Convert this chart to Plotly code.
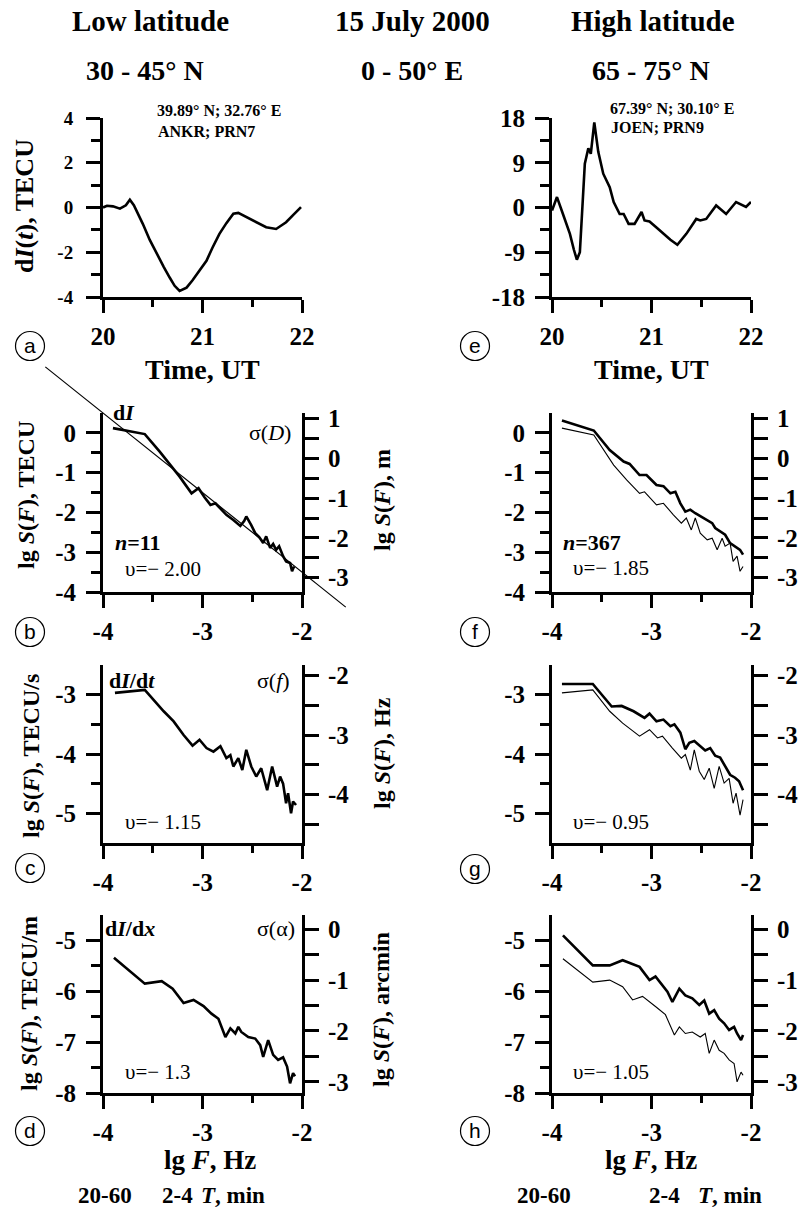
import numpy as np
import plotly.graph_objects as go

W, H = 801, 1218

# (a) dI(t), TECU - ANKR, PRN7
time_a = [20.00, 20.04, 20.10, 20.17, 20.23, 20.27, 20.31, 20.36, 20.40, 20.47,
          20.54, 20.61, 20.67, 20.72, 20.77, 20.84, 20.90, 20.97, 21.04, 21.10,
          21.17, 21.24, 21.31, 21.36, 21.44, 21.54, 21.64, 21.74, 21.84, 21.92, 21.99]
dI_a = [0.00, 0.08, 0.05, -0.05, 0.10, 0.35, 0.10, -0.35, -0.73, -1.45,
        -2.08, -2.65, -3.13, -3.50, -3.73, -3.58, -3.25, -2.83, -2.38, -1.80,
        -1.18, -0.70, -0.28, -0.24, -0.43, -0.66, -0.88, -0.96, -0.66, -0.30, 0.02]

# (e) dI(t), TECU - JOEN, PRN9
time_e = [20.00, 20.05, 20.11, 20.18, 20.22, 20.25, 20.28, 20.30, 20.31, 20.33,
          20.365, 20.39, 20.425, 20.465, 20.515, 20.58, 20.62, 20.68, 20.72, 20.77,
          20.83, 20.90, 20.93, 20.98, 21.05, 21.12, 21.19, 21.26, 21.35, 21.45,
          21.49, 21.55, 21.65, 21.75, 21.85, 21.95, 22.00]
dI_e = [-0.6, 2.1, -1.3, -5.3, -8.5, -10.5, -9.0, -1.3, 1.4, 8.8,
        11.9, 10.8, 17.1, 11.2, 6.8, 4.1, 1.1, -1.3, -1.3, -3.3,
        -3.3, -0.9, -2.6, -2.8, -4.0, -5.3, -6.5, -7.5, -5.3, -2.3,
        -2.6, -2.3, 0.4, -1.3, 1.1, 0.1, 1.1]

# (b) spectrum of dI, low latitude
lgF_b = [-3.90, -3.58, -3.43, -3.23, -3.11, -3.04, -2.98, -2.92, -2.87, -2.80,
         -2.76, -2.69, -2.65, -2.62, -2.58, -2.56, -2.51, -2.47, -2.43, -2.39,
         -2.36, -2.32, -2.29, -2.26, -2.23, -2.19, -2.16, -2.12, -2.10, -2.08]
lgS_b = [0.12, -0.03, -0.47, -1.10, -1.52, -1.39, -1.62, -1.81, -1.77, -1.95,
         -2.06, -2.19, -2.29, -2.34, -2.21, -2.10, -2.32, -2.52, -2.62, -2.77,
         -2.60, -2.89, -2.79, -2.94, -2.85, -3.10, -3.23, -3.27, -3.48, -3.36]
fit_b_slope = -2.00
fit_b_x = [-4.58, -1.56]
fit_b_anchor = (-4.0, 0.5)

# (f) spectrum of dI, high latitude (thick and thin curves)
lgF_f = [-3.90, -3.58, -3.42, -3.28, -3.22, -3.12, -3.05, -2.95, -2.88, -2.81,
         -2.76, -2.71, -2.66, -2.61, -2.56, -2.51, -2.44, -2.39, -2.36, -2.31,
         -2.26, -2.21, -2.16, -2.11, -2.08]
lgS_f = [0.31, 0.06, -0.43, -0.72, -0.78, -1.06, -1.06, -1.31, -1.34, -1.52,
         -1.48, -1.77, -1.98, -1.93, -2.02, -2.10, -2.19, -2.27, -2.39, -2.48,
         -2.56, -2.77, -2.85, -2.94, -3.06]
lgF_f2 = [-3.90, -3.58, -3.38, -3.25, -3.12, -3.07, -2.95, -2.88, -2.78, -2.70,
          -2.65, -2.60, -2.56, -2.51, -2.44, -2.39, -2.34, -2.29, -2.26, -2.21,
          -2.18, -2.14, -2.11, -2.08]
lgS_f2 = [0.12, -0.05, -0.81, -1.18, -1.52, -1.48, -1.81, -1.77, -2.06, -2.27,
          -2.14, -2.44, -2.14, -2.52, -2.69, -2.65, -2.94, -2.65, -2.85, -2.77,
          -3.23, -3.10, -3.48, -3.36]

# (c) spectrum of dI/dt, low latitude
lgF_c = [-3.88, -3.58, -3.39, -3.29, -3.19, -3.10, -3.03, -2.96, -2.89, -2.82,
         -2.76, -2.72, -2.69, -2.64, -2.60, -2.56, -2.51, -2.46, -2.41, -2.35,
         -2.30, -2.25, -2.22, -2.19, -2.16, -2.14, -2.11, -2.09, -2.06]
lgS_c = [-2.97, -2.92, -3.28, -3.45, -3.68, -3.86, -3.76, -3.90, -3.96, -3.87,
         -4.07, -4.02, -4.21, -4.07, -4.27, -3.93, -4.21, -4.38, -4.24, -4.61,
         -4.21, -4.55, -4.38, -4.50, -4.83, -4.66, -5.00, -4.80, -4.86]

# (g) spectrum of dI/dt, high latitude
lgF_g = [-3.90, -3.59, -3.40, -3.30, -3.18, -3.07, -3.02, -2.95, -2.88, -2.81,
         -2.77, -2.71, -2.66, -2.62, -2.57, -2.51, -2.46, -2.41, -2.36, -2.31,
         -2.26, -2.21, -2.16, -2.12, -2.08]
lgS_g = [-2.82, -2.82, -3.20, -3.19, -3.28, -3.39, -3.32, -3.45, -3.42, -3.53,
         -3.50, -3.64, -3.92, -3.81, -3.78, -3.86, -3.94, -3.90, -4.03, -4.06,
         -4.20, -4.35, -4.40, -4.46, -4.61]
lgF_g2 = [-3.90, -3.59, -3.42, -3.29, -3.12, -3.02, -2.94, -2.89, -2.79, -2.70,
          -2.66, -2.61, -2.57, -2.52, -2.47, -2.42, -2.37, -2.32, -2.27, -2.22,
          -2.18, -2.15, -2.11, -2.08]
lgS_g2 = [-2.97, -2.92, -3.28, -3.48, -3.70, -3.59, -3.73, -3.70, -3.90, -4.07,
          -4.01, -4.27, -3.93, -4.29, -4.43, -4.24, -4.58, -4.21, -4.49, -4.41,
          -4.83, -4.66, -5.03, -4.77]

# (d) spectrum of dI/dx, low latitude
lgF_d = [-3.89, -3.58, -3.41, -3.30, -3.19, -3.09, -2.99, -2.91, -2.84, -2.77,
         -2.72, -2.67, -2.64, -2.61, -2.54, -2.47, -2.42, -2.39, -2.34, -2.29,
         -2.24, -2.19, -2.15, -2.12, -2.09, -2.07]
lgS_d = [-5.34, -5.85, -5.80, -5.95, -6.23, -6.17, -6.29, -6.44, -6.54, -6.90,
         -6.73, -6.83, -6.70, -6.80, -6.90, -6.93, -7.06, -7.29, -6.96, -7.25,
         -7.35, -7.30, -7.48, -7.81, -7.61, -7.67]

# (h) spectrum of dI/dx, high latitude
lgF_h = [-3.89, -3.59, -3.42, -3.29, -3.12, -3.02, -2.96, -2.89, -2.84, -2.79,
         -2.72, -2.66, -2.59, -2.52, -2.47, -2.42, -2.37, -2.32, -2.27, -2.22,
         -2.17, -2.14, -2.10, -2.08]
lgS_h = [-4.90, -5.49, -5.49, -5.39, -5.52, -5.78, -5.71, -5.88, -6.01, -6.21,
         -5.95, -6.08, -6.14, -6.27, -6.18, -6.44, -6.37, -6.54, -6.63, -6.76,
         -6.70, -6.83, -6.96, -6.86]
lgF_h2 = [-3.89, -3.59, -3.42, -3.29, -3.19, -3.09, -2.96, -2.86, -2.77, -2.72,
          -2.66, -2.59, -2.51, -2.46, -2.42, -2.37, -2.32, -2.27, -2.22, -2.17,
          -2.14, -2.10, -2.08]
lgS_h2 = [-5.36, -5.82, -5.78, -5.91, -6.17, -6.10, -6.30, -6.46, -6.86, -6.70,
          -6.83, -6.80, -6.90, -6.83, -7.22, -6.96, -7.16, -7.22, -7.35, -7.42,
          -7.78, -7.59, -7.65]

# axis scales and tick labels
time_range = [20, 22]
time_ticks = [20, 21, 22]
time_minor = [20.5, 21.5]
a_range = [-4, 4]
a_ticks = [-4, -2, 0, 2, 4]
a_minor = [-3, -1, 1, 3]
e_range = [-18, 18]
e_ticks = [-18, -9, 0, 9, 18]
e_minor = [-13.5, -4.5, 4.5, 13.5]
lgF_range = [-4, -2]
lgF_ticks = [-4, -3, -2]
lgF_minor = [-3.5, -2.5]
dI_range = [-4, 0.5]
dI_ticks = [-4, -3, -2, -1, 0]
dI_minor = [-3.5, -2.5, -1.5, -0.5]
dIdt_range = [-5.5, -2.5]
dIdt_ticks = [-5, -4, -3]
dIdt_minor = [-4.5, -3.5]
dIdx_range = [-8, -4.5]
dIdx_ticks = [-8, -7, -6, -5]
dIdx_minor = [-7.5, -6.5, -5.5]
# right-hand scales: offset from the left scale, and ticks
sigD_offset, sigD_ticks = 0.64, [-3, -2.5, -2, -1.5, -1, -0.5, 0, 0.5, 1]
sigf_offset, sigf_ticks = 0.68, [-4.5, -4, -3.5, -3, -2.5, -2]
siga_offset, siga_ticks = 4.78, [-3, -2.5, -2, -1.5, -1, -0.5, 0]


def px(x):
    return x / W


def py(y):
    return 1 - y / H


def lbl(vals):
    return [("<b>%g</b>" % v) if float(v).is_integer() else "" for v in vals]


def aname(k, n):
    return k + "axis" + ("" if n == 1 else str(n))


def ref(k, n):
    return k + ("" if n == 1 else str(n))


def tfont(size):
    return dict(family="Liberation Serif", size=size, color="black")


col_px = {"L": (103, 302), "R": (552, 751)}
row_px = {1: (118, 297), 2: (413, 592), 3: (665, 843), 4: (915, 1093)}

base = dict(showline=True, linecolor="black", linewidth=3, ticks="outside",
            tickcolor="black", tickwidth=2.5, ticklen=14, showgrid=False,
            zeroline=False, fixedrange=True, tickmode="array", automargin=False)

fig = go.Figure()
lay = {}

# panel n: column, row, x scale, y scale, right scale, y label size
panels = [
    (1, "L", 1, (time_range, time_ticks, time_minor), (a_range, a_ticks, a_minor), None, 19),
    (2, "R", 1, (time_range, time_ticks, time_minor), (e_range, e_ticks, e_minor), None, 25),
    (3, "L", 2, (lgF_range, lgF_ticks, lgF_minor), (dI_range, dI_ticks, dI_minor), (sigD_offset, sigD_ticks), 25),
    (4, "R", 2, (lgF_range, lgF_ticks, lgF_minor), (dI_range, dI_ticks, dI_minor), (sigD_offset, sigD_ticks), 25),
    (5, "L", 3, (lgF_range, lgF_ticks, lgF_minor), (dIdt_range, dIdt_ticks, dIdt_minor), (sigf_offset, sigf_ticks), 25),
    (6, "R", 3, (lgF_range, lgF_ticks, lgF_minor), (dIdt_range, dIdt_ticks, dIdt_minor), (sigf_offset, sigf_ticks), 25),
    (7, "L", 4, (lgF_range, lgF_ticks, lgF_minor), (dIdx_range, dIdx_ticks, dIdx_minor), (siga_offset, siga_ticks), 25),
    (8, "R", 4, (lgF_range, lgF_ticks, lgF_minor), (dIdx_range, dIdx_ticks, dIdx_minor), (siga_offset, siga_ticks), 25),
]

for n, col, row, xs, ys, rs, ysize in panels:
    x0, x1 = col_px[col]
    y0, y1 = row_px[row]
    lay[aname("x", n)] = dict(base, domain=[px(x0), px(x1)], anchor=ref("y", n),
                              range=xs[0], tickvals=xs[1], ticktext=lbl(xs[1]),
                              tickfont=tfont(25), ticklen=13, ticklabelstandoff=2,
                              minor=dict(tickmode="array", tickvals=xs[2], ticks="outside",
                                         ticklen=7, tickwidth=2.5, tickcolor="black"))
    lay[aname("y", n)] = dict(base, domain=[py(y1), py(y0)], anchor=ref("x", n),
                              range=ys[0], tickvals=ys[1], ticktext=lbl(ys[1]),
                              tickfont=tfont(ysize), ticklabelstandoff=9 if n == 1 else 5,
                              minor=dict(tickmode="array", tickvals=ys[2], ticks="outside",
                                         ticklen=9, tickwidth=2.5, tickcolor="black"))
    if rs is not None:
        m = n + 6
        off, rt = rs
        lay[aname("y", m)] = dict(base, overlaying=ref("y", n), side="right", anchor=ref("x", n),
                                  range=[ys[0][0] + off, ys[0][1] + off],
                                  tickvals=rt, ticktext=lbl(rt), tickfont=tfont(25),
                                  ticklabelstandoff=4)
        fig.add_trace(go.Scatter(x=[], y=[], xaxis=ref("x", n), yaxis=ref("y", m),
                                 showlegend=False, hoverinfo="skip"))

thick = dict(color="black", width=2.6)
thin = dict(color="black", width=1.1)
curves = [
    (1, time_a, dI_a, thick), (2, time_e, dI_e, thick),
    (3, lgF_b, lgS_b, thick),
    (4, lgF_f2, lgS_f2, thin), (4, lgF_f, lgS_f, thick),
    (5, lgF_c, lgS_c, thick),
    (6, lgF_g2, lgS_g2, thin), (6, lgF_g, lgS_g, thick),
    (7, lgF_d, lgS_d, thick),
    (8, lgF_h2, lgS_h2, thin), (8, lgF_h, lgS_h, thick),
]
for n, xv, yv, ln in curves:
    fig.add_trace(go.Scatter(x=xv, y=yv, mode="lines", line=ln, xaxis=ref("x", n),
                             yaxis=ref("y", n), showlegend=False, hoverinfo="skip"))

# power-law fit in (b): drawn on a hidden, wider axis pair with the same scale
bx0, bx1 = col_px["L"]
by0, by1 = row_px[2]
sx = (lgF_range[1] - lgF_range[0]) / (bx1 - bx0)
sy = (dI_range[1] - dI_range[0]) / (by1 - by0)
ex0, ex1, ey0, ey1 = 40, 352, 355, 620
lay[aname("x", 15)] = dict(visible=False, fixedrange=True, anchor="y15", automargin=False,
                           domain=[px(ex0), px(ex1)],
                           range=[lgF_range[0] - (bx0 - ex0) * sx, lgF_range[1] + (ex1 - bx1) * sx])
lay[aname("y", 15)] = dict(visible=False, fixedrange=True, anchor="x15", automargin=False,
                           domain=[py(ey1), py(ey0)],
                           range=[dI_range[0] - (ey1 - by1) * sy, dI_range[1] + (by0 - ey0) * sy])
fit_y = [fit_b_anchor[1] + fit_b_slope * (v - fit_b_anchor[0]) for v in fit_b_x]
fig.add_trace(go.Scatter(x=fit_b_x, y=fit_y, mode="lines", line=dict(color="black", width=1.2),
                         xaxis="x15", yaxis="y15", showlegend=False, hoverinfo="skip"))

ann = []


def txt(s, x, y, size=20, bold=True, xanchor="center", angle=0, family="Liberation Serif"):
    ann.append(dict(text=s, x=px(x), y=py(y), xref="paper", yref="paper", showarrow=False,
                    xanchor=xanchor, yanchor="middle", textangle=angle,
                    font=dict(family=family, size=size, color="black",
                              weight="bold" if bold else "normal")))


# headers
txt("Low latitude", 150, 21, 29)
txt("15 July 2000", 412, 21, 29)
txt("High latitude", 653, 21, 29)
txt("30 - 45° N", 145, 71, 28)
txt("0 - 50° E", 412, 71, 28)
txt("65 - 75° N", 651, 71, 28)
txt("39.89° N; 32.76° E", 219, 110, 16)
txt("ANKR; PRN7", 206, 131, 16)
txt("67.39° N; 30.10° E", 672, 108, 16)
txt("JOEN; PRN9", 657, 128, 16)

# axis titles
txt("Time, UT", 202, 370, 28)
txt("Time, UT", 651, 370, 28)
txt("lg <i>F</i>, Hz", 210, 1160, 27)
txt("lg <i>F</i>, Hz", 651, 1160, 27)
for cx, pos in ((105, "20-60"), (177, "2-4"), (233, "<i>T</i>, min"),
                (544, "20-60"), (664, "2-4"), (730, "<i>T</i>, min")):
    txt(pos, cx, 1195, 23)
txt("d<i>I</i>(<i>t</i>), TECU", 24, 206, 26, angle=-90)
txt("lg <i>S</i>(<i>F</i>), TECU", 26, 495, 24, angle=-90)
txt("lg <i>S</i>(<i>F</i>), TECU/s", 31, 756, 24, angle=-90)
txt("lg <i>S</i>(<i>F</i>), TECU/m", 29, 1004, 24, angle=-90)
txt("lg <i>S</i>(<i>F</i>), m", 382, 500, 24, angle=-90)
txt("lg <i>S</i>(<i>F</i>), Hz", 382, 753, 24, angle=-90)
txt("lg <i>S</i>(<i>F</i>), arcmin", 381, 1010, 24, angle=-90)

# in-panel labels
txt("d<i>I</i>", 124, 412, 22)
txt("σ(<i>D</i>)", 270, 433, 22, bold=False)
txt("<i>n</i>=11", 138, 542, 22)
txt("υ=− 2.00", 163, 569, 21, bold=False)
txt("<i>n</i>=367", 592, 542, 22)
txt("υ=− 1.85", 611, 568, 21, bold=False)
txt("d<i>I</i>/d<i>t</i>", 132, 680, 22)
txt("σ(<i>f</i>)", 273, 680, 22, bold=False)
txt("υ=− 1.15", 163, 822, 21, bold=False)
txt("υ=− 0.95", 611, 822, 21, bold=False)
txt("d<i>I</i>/d<i>x</i>", 130, 928, 22)
txt("σ(α)", 276, 928, 22, bold=False)
txt("υ=− 1.3", 158, 1072, 21, bold=False)
txt("υ=− 1.05", 611, 1072, 21, bold=False)

# circled panel letters
shapes = []
for letter, cx, cy in (("a", 30, 346), ("e", 475, 346), ("b", 30, 632), ("f", 475, 632),
                       ("c", 30, 868), ("g", 475, 869), ("d", 30, 1131), ("h", 475, 1131)):
    r = 14.5
    shapes.append(dict(type="circle", xref="paper", yref="paper",
                       x0=px(cx - r), x1=px(cx + r), y0=py(cy + r), y1=py(cy - r),
                       line=dict(color="black", width=1.2)))
    txt(letter, cx, cy - 1, 21, bold=False, family="Liberation Sans")

fig.update_layout(template="none", width=W, height=H,
                  margin=dict(l=0, r=0, t=0, b=0, pad=0, autoexpand=False),
                  paper_bgcolor="white", plot_bgcolor="rgba(0,0,0,0)", showlegend=False,
                  annotations=ann, shapes=shapes, **lay)

fig.write_html("out.html", config={"displayModeBar": False},
               post_script="document.body.style.margin = '0px';")
